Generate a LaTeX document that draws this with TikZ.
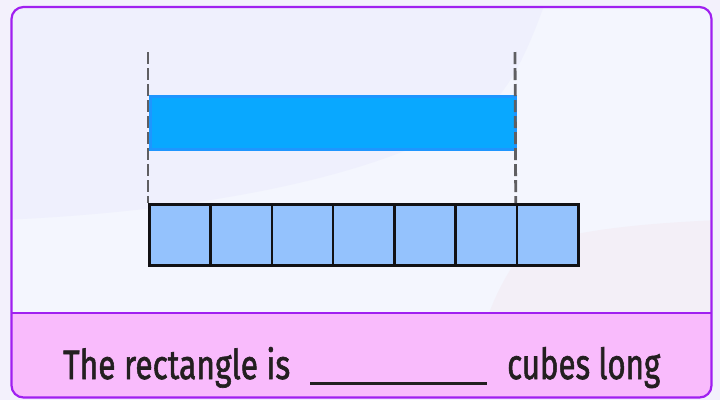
\documentclass[tikz,border=0pt]{standalone}
\usepackage{fontspec}
\setmainfont{Fira Sans}
\newfontfamily\labelfont{Fira Sans}[FakeBold=1.6]
\usepackage{graphicx}
\definecolor{outerbg}{RGB}{243,241,252}
\definecolor{basebg}{RGB}{244,246,254}
\definecolor{blobA}{RGB}{239,240,253}
\definecolor{blobB}{RGB}{243,239,247}
\definecolor{framec}{RGB}{160,32,240}
\definecolor{pinkband}{RGB}{249,187,252}
\definecolor{barfill}{RGB}{9,168,255}
\definecolor{barline}{RGB}{30,150,255}
\definecolor{cubefill}{RGB}{148,194,253}
\definecolor{cubeline}{RGB}{17,17,20}
\definecolor{dashc}{RGB}{95,95,98}
\definecolor{textc}{RGB}{35,31,32}
\tikzset{
  framestyle/.style={draw=framec, line width=2.2bp},
  barstyle/.style={draw=barline, fill=barfill, line width=2.5bp, inner sep=0, minimum width=365bp, minimum height=53bp, anchor=north west},
  cubestyle/.style={draw=cubeline, fill=cubefill, line width=2.5bp, inner sep=0, minimum width=61.29bp, minimum height=61bp, anchor=north west},
  guidestyle/.style={draw=dashc, line width=2.8bp, dash pattern=on 12bp off 4bp},
  textstyle/.style={inner sep=0, anchor=base west, text=textc},
}
\begin{document}
\begin{tikzpicture}[x=1bp,y=-1bp]
\useasboundingbox (0,0) rectangle (720,400);
\fill[outerbg] (0,0) rectangle (720,400);
\begin{scope}
\clip[rounded corners=12bp] (11.5,7) rectangle (711.5,397.5);
\fill[basebg] (0,0) rectangle (720,313);
\fill[blobA] (0,0) -- (546,0) .. controls (525,60) and (505,95) .. (487,106) .. controls (400,175) and (200,212) .. (0,220) -- cycle;
\fill[blobB] (720,220) .. controls (600,225) and (535,238) .. (519,257) .. controls (480,310) and (468,380) .. (468,441) -- (720,441) -- cycle;
\fill[pinkband] (0,313) rectangle (720,400);
\end{scope}
\draw[framestyle, rounded corners=12bp] (11.5,7) rectangle (711.5,397.5);
\draw[framestyle] (11.5,313) -- (711.5,313);
% bar
\node[barstyle] (bar) at (149,95) {};
% cubes
\foreach \i in {0,...,6} {
  \node[cubestyle] (c\i) at ({148+61.29*\i},203) {};
}
% guides
\coordinate (gl) at (148,52);
\coordinate (gr) at (515,52);
\draw[guidestyle] (gl) -- (c0.north west);
\draw[guidestyle] (gr) -- (c6.north west);
% text
\node[textstyle] (t1) at (63,379) {\resizebox{227bp}{32bp}{\fontsize{40bp}{40bp}\labelfont The rectangle is}};
\coordinate (ua) at (310,383);
\coordinate (ub) at (487,383);
\draw[draw=textc, line width=3bp] (ua) -- (ub);
\node[textstyle] (t2) at (507,379) {\resizebox{153bp}{32bp}{\fontsize{40bp}{40bp}\labelfont cubes long}};
\end{tikzpicture}
\end{document}
